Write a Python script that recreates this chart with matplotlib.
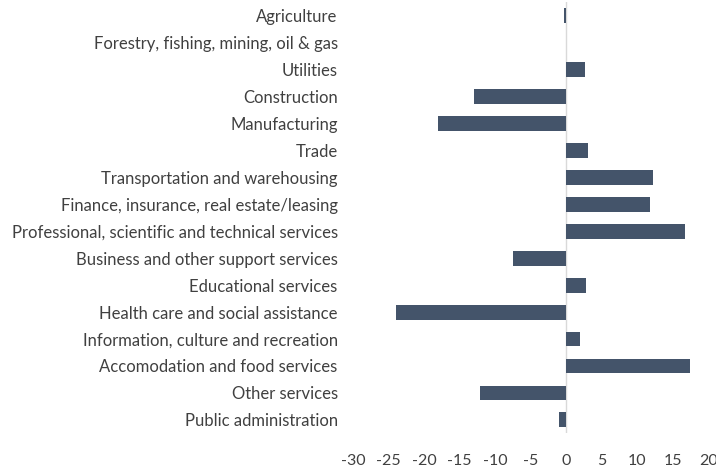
import numpy as np
import matplotlib
matplotlib.use("Agg")
import matplotlib.pyplot as plt

# =========================================================
# Data
# =========================================================

industries = [
    "Agriculture",
    "Forestry, fishing, mining, oil & gas",
    "Utilities",
    "Construction",
    "Manufacturing",
    "Trade",
    "Transportation and warehousing",
    "Finance, insurance, real estate/leasing",
    "Professional, scientific and technical services",
    "Business and other support services",
    "Educational services",
    "Health care and social assistance",
    "Information, culture and recreation",
    "Accomodation and food services",
    "Other services",
    "Public administration",
]

change = [
    -0.3, 0.0, 2.7, -12.9, -18.1, 3.1, 12.3, 11.8,
    16.8, -7.5, 2.8, -24.0, 2.0, 17.4, -12.1, -1.0,
]

x_ticks = [-30, -25, -20, -15, -10, -5, 0, 5, 10, 15, 20]

# =========================================================
# Plot
# =========================================================

plt.rcParams["font.family"] = ["Lato", "DejaVu Sans"]

TEXT_COLOR = "#404040"
BAR_COLOR = "#44546A"

fig = plt.figure(figsize=(7.16, 4.70), dpi=100)
ax = fig.add_axes([0.493, 0.078, 0.496, 0.917])

y = np.arange(len(industries))
ax.barh(y, change, height=0.55, color=BAR_COLOR, zorder=3)

ax.axvline(0, color="#d9d9d9", linewidth=1.0, zorder=2)

ax.set_xlim(-30, 20)
ax.set_ylim(len(industries) - 0.5, -0.5)

ax.set_yticks(y)
ax.set_yticklabels(industries)
ax.set_xticks(x_ticks)
ax.set_xticklabels([str(t) for t in x_ticks])

for spine in ax.spines.values():
    spine.set_visible(False)

ax.tick_params(axis="y", length=0, pad=11, labelsize=12, labelcolor=TEXT_COLOR)
ax.tick_params(axis="x", length=0, pad=15, labelsize=11.5, labelcolor=TEXT_COLOR)

fig.savefig("out.png", dpi=100, facecolor="white")
